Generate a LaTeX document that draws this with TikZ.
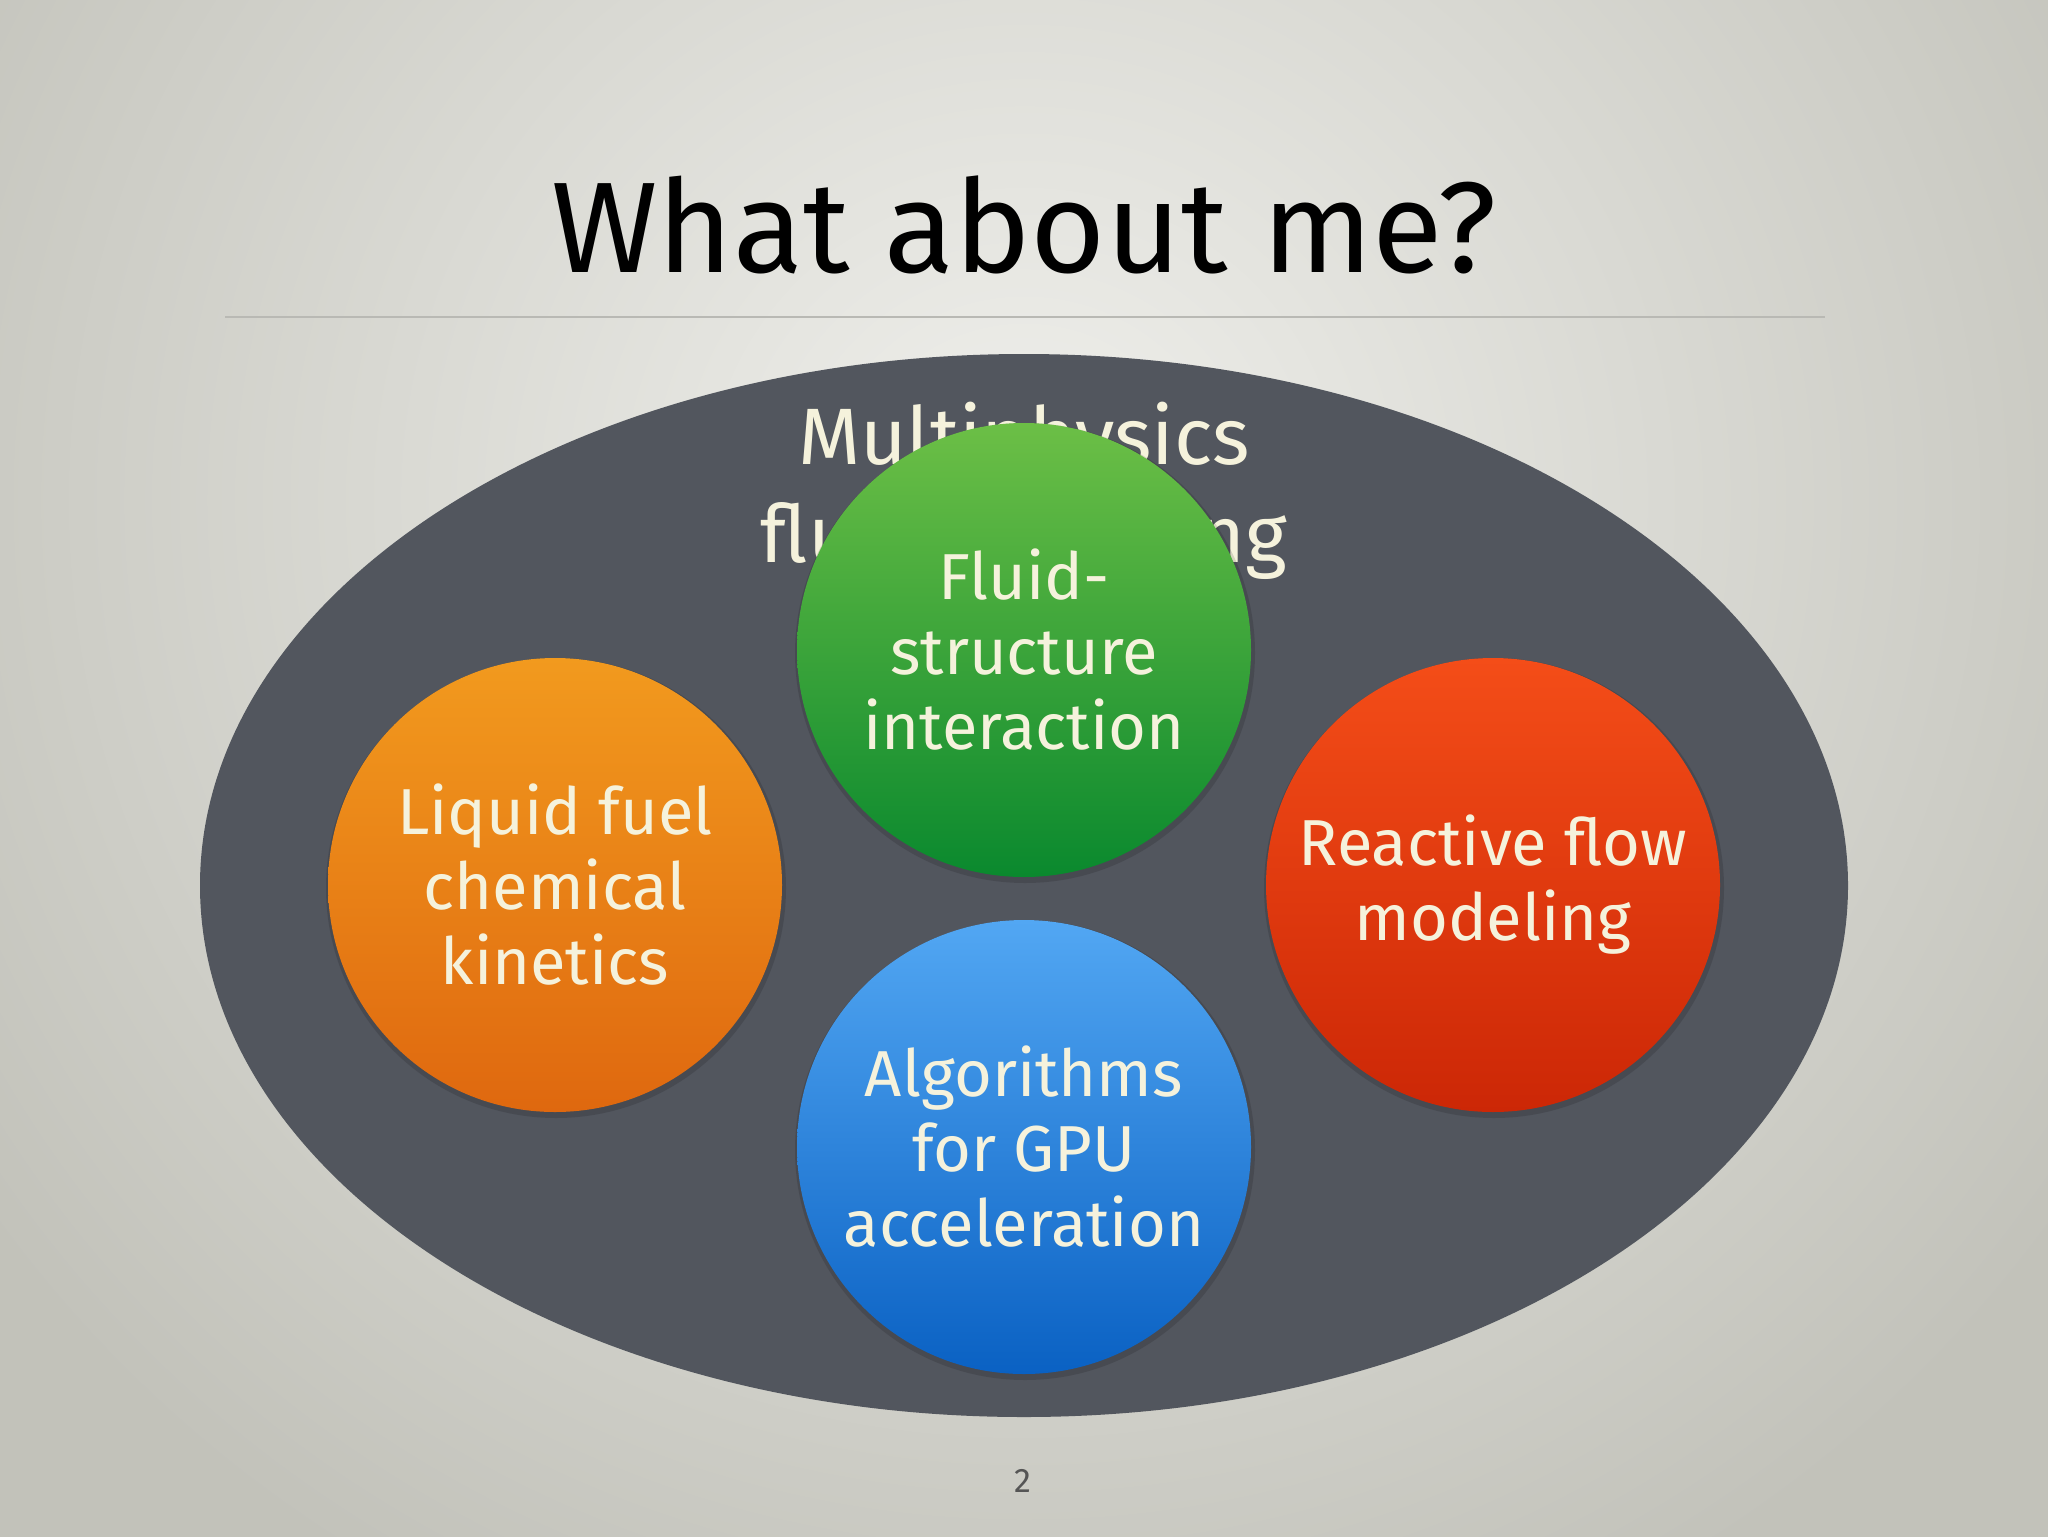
\documentclass[tikz,border=0pt]{standalone}
\usepackage{fontspec}
\setmainfont{Fira Sans}
\definecolor{bginner}{HTML}{F0F0EC}
\definecolor{bgouter}{HTML}{C2C2BA}
\definecolor{ellgray}{HTML}{52565E}
\definecolor{cream}{HTML}{F5F2DC}
\definecolor{rulegray}{HTML}{B9B9B4}
\definecolor{numgray}{HTML}{555555}
\definecolor{gtop}{HTML}{6CBF46}
\definecolor{gbot}{HTML}{0A892E}
\definecolor{otop}{HTML}{F29A1E}
\definecolor{obot}{HTML}{DF680F}
\definecolor{rtop}{HTML}{F44D18}
\definecolor{rbot}{HTML}{CC2706}
\definecolor{btop}{HTML}{52A7F3}
\definecolor{bbot}{HTML}{0A61C3}
\tikzset{
  bubble/.style={circle, minimum size=227pt, inner sep=0pt, align=center,
    text=cream, font=\fontsize{32.5}{37.5}\selectfont},
  bubbleshadow/.style={fill=black, opacity=0.13},
}
\begin{document}
\begin{tikzpicture}[x=0.5pt, y=-0.5pt]
\useasboundingbox (0,0) rectangle (2048,1536);
% background
\shade[inner color=bginner, outer color=bgouter] (-250,-750) rectangle (2298,1750);
% title
\node[font=\fontsize{64.5}{70}\selectfont, anchor=base] (title) at (1024,272) {What about me?};
\draw[rulegray, line width=1.2pt] (225,317) coordinate (rl) -- (1825,317) coordinate (rr);
% ellipse
\fill[ellgray] (1024,885.5) ellipse [x radius=824, y radius=531.5];
\node[font=\fontsize{40}{49}\selectfont, text=cream, align=center, anchor=base] (multi) at (1024,562)
  {Multiphysics\\fluid modeling};
% shadows
\foreach \cx/\cy in {555/885, 1493/885, 1024/1147, 1024/650}
  \fill[bubbleshadow] (\cx+1,\cy+3) circle [radius=230];
% bubbles
\node[bubble, top color=otop, bottom color=obot] (liquid) at (555,885) {Liquid fuel\\chemical\\kinetics};
\node[bubble, top color=rtop, bottom color=rbot] (reactive) at (1493,885) {Reactive flow\\modeling};
\node[bubble, top color=btop, bottom color=bbot] (gpu) at (1024,1147) {Algorithms\\for GPU\\acceleration};
\node[bubble, top color=gtop, bottom color=gbot] (fsi) at (1024,650) {Fluid-\\structure\\interaction};
% page number
\node[font=\fontsize{17}{18}\selectfont, text=numgray] (page) at (1023,1481) {2};
\end{tikzpicture}
\end{document}
